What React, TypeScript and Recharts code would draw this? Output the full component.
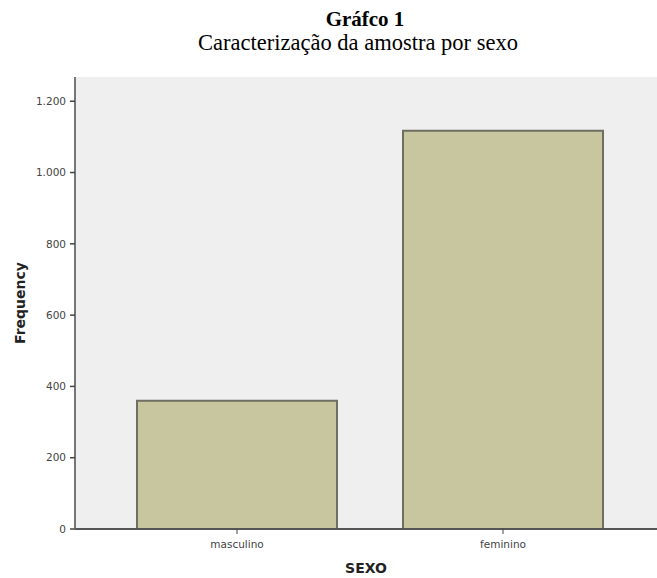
import React from 'react';
import { BarChart, Bar, XAxis, YAxis, CartesianGrid } from 'recharts';

const categories = ['masculino', 'feminino'];
const frequencies = [360, 1117];
const yTicks = [0, 200, 400, 600, 800, 1000, 1200];
const yMax = 1268;

const data = categories.map((c, i) => ({ sexo: c, freq: frequencies[i] }));

const fmtTick = (v: number) => (v >= 1000 ? `${Math.floor(v / 1000)}.${String(v % 1000).padStart(3, '0')}` : String(v));

const sans = '"DejaVu Sans", sans-serif';

export default function App() {
  return (
    <div style={{ position: 'absolute', left: 0, top: 0, width: 657, height: 578, background: '#fff', overflow: 'hidden' }}>
      <div style={{ position: 'absolute', left: 0, width: 730, top: 8, height: 22, lineHeight: '22px', textAlign: 'center', fontFamily: '"Liberation Serif", serif', fontWeight: 'bold', fontSize: 21, color: '#000' }}>
        Gráfco 1
      </div>
      <div style={{ position: 'absolute', left: 0, width: 716, top: 31, height: 23, lineHeight: '23px', textAlign: 'center', fontFamily: '"Liberation Serif", serif', fontSize: 22.5, color: '#000' }}>
        Caracterização da amostra por sexo
      </div>
      <div style={{ position: 'absolute', left: 0, top: 0 }}>
        <BarChart width={657} height={578} data={data} margin={{ top: 77, right: 0, bottom: 0, left: 0 }}>
          <CartesianGrid horizontal={false} vertical={false} fill="#efefef" stroke="none" />
          <XAxis
            dataKey="sexo"
            xAxisId="top"
            orientation="top"
            height={0}
            tick={false}
            tickLine={false}
            axisLine={{ stroke: '#777', strokeWidth: 2 }}
          />
          <XAxis
            dataKey="sexo"
            height={49}
            padding={{ left: 29, right: 21 }}
            tickLine={{ stroke: '#444', strokeWidth: 1 }}
            tickSize={5}
            tickMargin={7}
            axisLine={{ stroke: '#555', strokeWidth: 2 }}
            tick={{ fontSize: 10.5, fill: '#444', fontFamily: sans }}
            label={{ value: 'SEXO', position: 'insideBottom', offset: 5, style: { fontSize: 14, fontWeight: 'bold', fill: '#222', fontFamily: sans } }}
          />
          <YAxis
            width={75}
            domain={[0, yMax]}
            ticks={yTicks}
            interval={0}
            tickFormatter={fmtTick}
            tickLine={{ stroke: '#444', strokeWidth: 1.5 }}
            tickSize={5}
            tickMargin={4}
            axisLine={{ stroke: '#777', strokeWidth: 2 }}
            tick={{ fontSize: 10.5, fill: '#444', fontFamily: sans }}
            label={{ value: 'Frequency', angle: -90, position: 'insideLeft', offset: 20, style: { fontSize: 14, fontWeight: 'bold', fill: '#222', fontFamily: sans, textAnchor: 'middle' } }}
          />
          <Bar dataKey="freq" barSize={200} fill="#c8c69e" stroke="#6e6e62" strokeWidth={2} isAnimationActive={false} />
        </BarChart>
      </div>
    </div>
  );
}
